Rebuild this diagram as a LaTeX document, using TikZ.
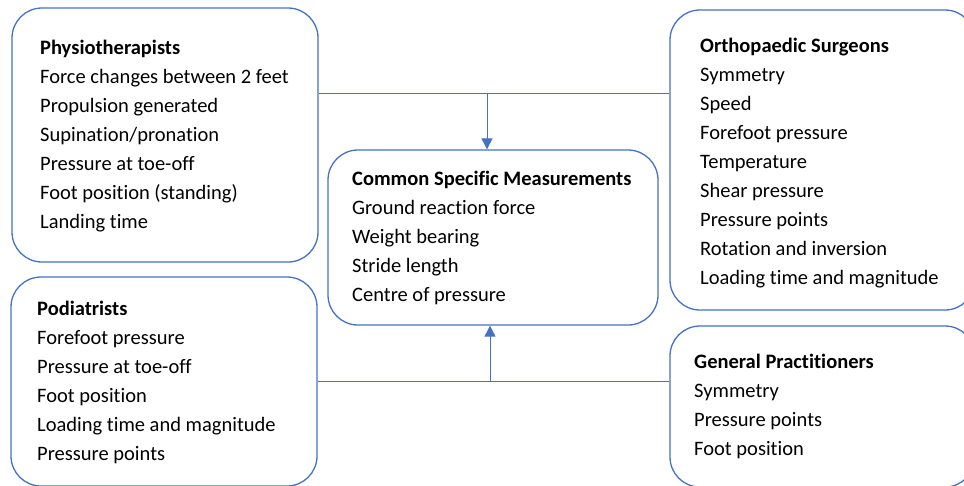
\documentclass[tikz,border=0pt]{standalone}
\usepackage{fontspec}
\setmainfont[Ligatures=NoCommon]{Carlito}
\usetikzlibrary{arrows.meta}
\definecolor{boxblue}{RGB}{68,114,196}
\tikzset{
  card/.style={draw=boxblue, line width=1.3pt, rounded corners=30pt, rectangle, inner sep=0pt},
  txt/.style={anchor=north west, align=left, inner sep=0pt, font=\fontsize{20.5}{29}\selectfont},
  link/.style={draw=boxblue, line width=0.9pt},
  arr/.style={link, -{Triangle[width=11pt,length=11pt]}}
}
\begin{document}
\begin{tikzpicture}[x=1pt,y=-1pt]
\useasboundingbox (0,0) rectangle (964,485);
\clip (0,0) rectangle (964,485);
\node[card, minimum width=306pt, minimum height=254pt] (phys) at (165,135) {};
\node[card, minimum width=306pt, minimum height=209pt] (pod) at (164,381.5) {};
\node[card, minimum width=305pt, minimum height=300pt] (orth) at (822.5,160) {};
\node[card, minimum width=305pt, minimum height=161pt] (gp) at (822.5,406.5) {};
\node[card, minimum width=330pt, minimum height=175pt] (cen) at (493,237.5) {};

\node[txt] (physt) at (40,40) {\textbf{Physiotherapists}\\Force changes between 2 feet\\Propulsion generated\\Supination/pronation\\Pressure at toe-off\\Foot position (standing)\\Landing time};
\node[txt] (podt) at (37,301) {\textbf{Podiatrists}\\Forefoot pressure\\Pressure at toe-off\\Foot position\\Loading time and magnitude\\Pressure points};
\node[txt] (ortht) at (700,38) {\textbf{Orthopaedic Surgeons}\\Symmetry\\Speed\\Forefoot pressure\\Temperature\\Shear pressure\\Pressure points\\Rotation and inversion\\Loading time and magnitude};
\node[txt] (gpt) at (694,354) {\textbf{General Practitioners}\\Symmetry\\Pressure points\\Foot position};
\node[txt] (cent) at (352,171) {\textbf{Common Specific Measurements}\\Ground reaction force\\Weight bearing\\Stride length\\Centre of pressure};

\coordinate (t) at (487,93);
\coordinate (b) at (490,381);
\draw[link] (phys.east |- t) -- (orth.west |- t);
\draw[arr] (t) -- (cen.north -| t);
\draw[link] (pod.east |- b) -- (gp.west |- b);
\draw[arr] (b) -- (cen.south -| b);
\end{tikzpicture}
\end{document}
